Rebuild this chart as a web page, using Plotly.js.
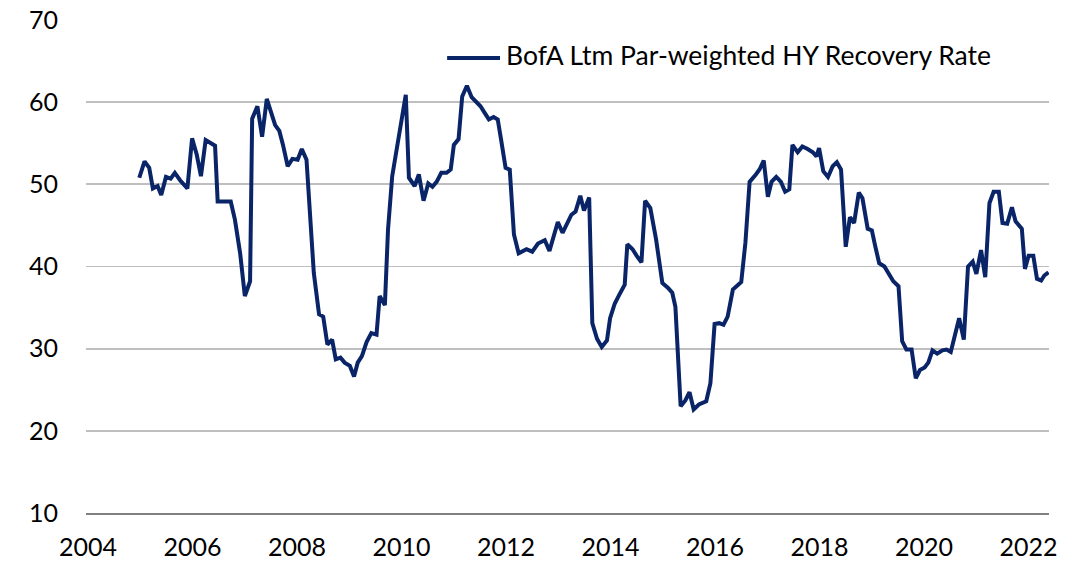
<!DOCTYPE html>
<html>
<head>
<meta charset="utf-8">
<script src="https://cdn.plot.ly/plotly-3.0.1.min.js"></script>
<style>html,body{margin:0;padding:0;background:#fff;}#chart{width:1081px;height:565px;}</style>
</head>
<body>
<div id="chart"></div>
<script>
// Time in decimal years
const years = [
2004.98,2005.08,2005.17,2005.24,2005.33,2005.40,2005.49,2005.58,2005.66,2005.76,2005.90,
2005.99,2006.08,2006.16,2006.25,2006.43,2006.48,2006.73,2006.81,2006.91,
2007.00,2007.10,2007.14,2007.24,2007.33,2007.42,2007.58,2007.66,2007.73,2007.82,2007.91,
2008.01,2008.09,2008.18,2008.32,2008.42,2008.50,2008.58,2008.67,2008.74,2008.83,2008.91,
2009.01,2009.09,2009.16,2009.24,2009.33,2009.42,2009.52,2009.58,2009.68,2009.74,2009.82,2009.90,
2010.00,2010.08,2010.14,2010.25,2010.33,2010.42,2010.51,2010.59,2010.67,2010.76,2010.86,2010.94,
2011.00,2011.09,2011.16,2011.25,2011.34,2011.43,2011.51,2011.59,2011.67,2011.76,2011.84,2011.90,
2011.99,2012.07,2012.15,2012.24,2012.32,2012.39,2012.50,2012.61,2012.74,2012.83,2012.93,
2012.99,2013.08,2013.16,2013.25,2013.33,2013.42,2013.49,2013.59,2013.65,2013.74,2013.83,2013.93,
2013.99,2014.08,2014.17,2014.27,2014.32,2014.42,2014.50,2014.59,2014.66,2014.76,2014.87,
2014.99,2015.10,2015.18,2015.24,2015.34,2015.43,2015.51,2015.59,2015.69,2015.83,2015.91,
2015.99,2016.08,2016.16,2016.24,2016.34,2016.43,2016.50,2016.58,2016.66,2016.78,2016.85,2016.93,
2017.01,2017.08,2017.17,2017.26,2017.34,2017.42,2017.48,2017.58,2017.67,2017.77,2017.87,2017.94,
2017.99,2018.07,2018.16,2018.25,2018.33,2018.41,2018.50,2018.58,2018.66,2018.75,2018.82,2018.92,
2019.00,2019.06,2019.14,2019.24,2019.33,2019.41,2019.51,2019.58,2019.66,2019.76,2019.84,2019.92,
2020.01,2020.08,2020.16,2020.25,2020.35,2020.43,2020.51,2020.59,2020.67,2020.76,2020.84,2020.93,
2021.00,2021.09,2021.17,2021.25,2021.33,2021.43,2021.50,2021.59,2021.68,2021.75,2021.83,2021.87,2021.93,
2022.00,2022.09,2022.16,2022.24,2022.30,2022.38
];

// BofA Ltm Par-weighted HY Recovery Rate
const recoveryRate = [
50.8,52.8,52.0,49.5,49.8,48.7,50.9,50.7,51.4,50.5,49.5,
55.6,53.6,51.0,55.4,54.7,47.9,47.9,45.7,41.6,
36.4,38.2,58.0,59.5,55.8,60.4,57.2,56.5,54.8,52.2,53.1,
53.0,54.3,53.0,39.2,34.2,33.9,30.5,31.1,28.7,28.9,28.3,
27.9,26.6,28.3,29.1,30.8,31.9,31.7,36.4,35.3,44.5,51.0,54.2,
57.6,60.9,50.8,49.8,51.2,48.0,50.1,49.7,50.3,51.4,51.4,51.8,
54.8,55.5,60.7,62.0,60.6,60.1,59.5,58.7,57.9,58.2,57.9,55.6,
52.0,51.8,43.9,41.6,41.8,42.1,41.8,42.8,43.2,41.9,44.1,
45.4,44.1,45.2,46.3,46.7,48.6,46.8,48.4,33.1,31.2,30.2,31.0,
33.7,35.5,36.6,37.8,42.7,42.1,41.3,40.5,48.0,47.1,43.3,
38.0,37.4,36.8,35.1,23.0,23.7,24.7,22.6,23.2,23.6,25.8,
33.0,33.1,32.9,33.9,37.2,37.7,38.1,42.9,50.3,51.2,51.8,52.9,
48.5,50.3,50.9,50.3,49.1,49.4,54.8,53.9,54.6,54.3,53.9,53.4,
54.4,51.6,50.9,52.2,52.7,51.8,42.4,46.0,45.3,49.0,48.3,44.6,
44.4,42.6,40.4,40.0,39.1,38.2,37.6,30.9,29.9,29.9,26.4,27.4,
27.7,28.3,29.8,29.4,29.8,29.9,29.6,31.9,33.7,31.1,40.0,40.6,
39.1,42.0,38.7,47.7,49.1,49.1,45.3,45.2,47.2,45.5,44.8,44.6,39.7,
41.3,41.3,38.5,38.3,38.9,39.3
];

const seriesName = 'BofA Ltm Par-weighted HY Recovery Rate';
const xTicks = [2004,2006,2008,2010,2012,2014,2016,2018,2020,2022];
const yTicks = [10,20,30,40,50,60,70];

const lineColor = '#0a2468';
const fontFam = 'Lato, "Open Sans", sans-serif';

const trace = {
  x: years, y: recoveryRate, type: 'scatter', mode: 'lines',
  name: seriesName,
  line: {color: lineColor, width: 4},
  hoverinfo: 'x+y'
};

const layout = {
  width: 1081, height: 565,
  margin: {l: 86, r: 32, t: 20, b: 52},
  paper_bgcolor: '#ffffff', plot_bgcolor: '#ffffff',
  showlegend: false,
  font: {family: fontFam, color: '#000', size: 25},
  xaxis: {
    range: [2003.96, 2022.39],
    tickvals: xTicks, ticktext: xTicks.map(String),
    showgrid: false, zeroline: false,
    showline: true, linecolor: '#808080', linewidth: 2,
    ticks: '', ticklabelstandoff: 11,
    tickfont: {family: fontFam, size: 25, color: '#000'}
  },
  yaxis: {
    range: [10, 70],
    tickvals: yTicks, ticktext: yTicks.map(String),
    showgrid: true, gridcolor: '#bfbfbf', gridwidth: 1.8,
    zeroline: false, showline: false, ticks: '',
    ticklabelstandoff: 27,
    tickfont: {family: fontFam, size: 25, color: '#000'}
  },
  shapes: [{
    type: 'line', xref: 'paper', yref: 'paper',
    x0: 0.375, x1: 0.4299, y0: 0.923, y1: 0.923,
    line: {color: lineColor, width: 4}
  }],
  annotations: [{
    xref: 'paper', yref: 'paper', x: 0.4341, y: 0.928,
    xanchor: 'left', yanchor: 'middle', showarrow: false,
    text: seriesName,
    font: {family: fontFam, size: 26.5, color: '#000'}
  }]
};

Plotly.newPlot('chart', [trace], layout, {displayModeBar: false, staticPlot: true});
</script>
</body>
</html>
